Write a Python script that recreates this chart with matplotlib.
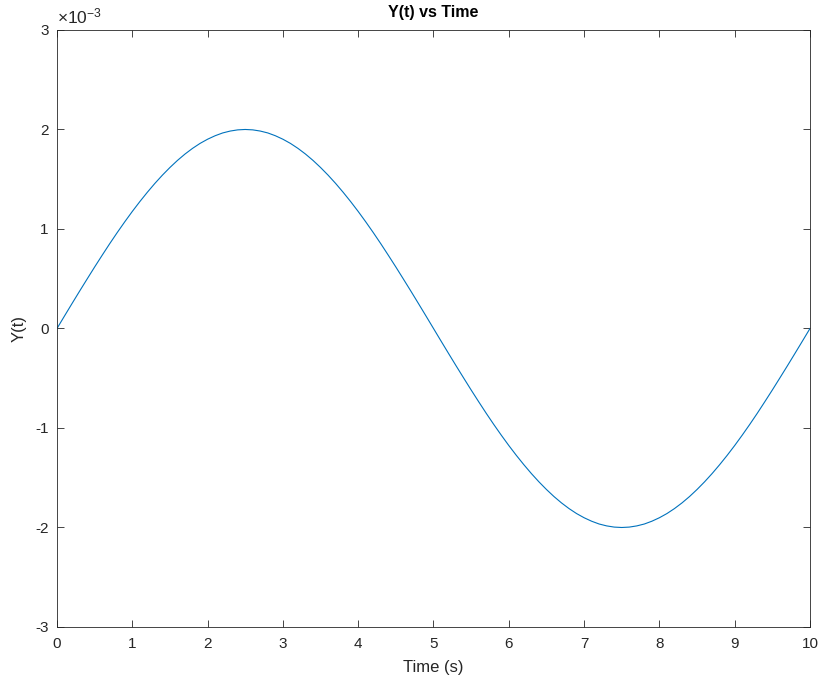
import matplotlib
matplotlib.use('Agg')
import matplotlib.pyplot as plt

plt.rcParams['font.family'] = ['Liberation Sans', 'DejaVu Sans']
plt.rcParams['axes.unicode_minus'] = False
plt.rcParams['mathtext.fontset'] = 'custom'
plt.rcParams['mathtext.rm'] = 'Liberation Sans'

# time (s)
t = [0.0, 0.1, 0.2, 0.3, 0.4, 0.5, 0.6, 0.7, 0.8, 0.9,
     1.0, 1.1, 1.2, 1.3, 1.4, 1.5, 1.6, 1.7, 1.8, 1.9,
     2.0, 2.1, 2.2, 2.3, 2.4, 2.5, 2.6, 2.7, 2.8, 2.9,
     3.0, 3.1, 3.2, 3.3, 3.4, 3.5, 3.6, 3.7, 3.8, 3.9,
     4.0, 4.1, 4.2, 4.3, 4.4, 4.5, 4.6, 4.7, 4.8, 4.9,
     5.0, 5.1, 5.2, 5.3, 5.4, 5.5, 5.6, 5.7, 5.8, 5.9,
     6.0, 6.1, 6.2, 6.3, 6.4, 6.5, 6.6, 6.7, 6.8, 6.9,
     7.0, 7.1, 7.2, 7.3, 7.4, 7.5, 7.6, 7.7, 7.8, 7.9,
     8.0, 8.1, 8.2, 8.3, 8.4, 8.5, 8.6, 8.7, 8.8, 8.9,
     9.0, 9.1, 9.2, 9.3, 9.4, 9.5, 9.6, 9.7, 9.8, 9.9,
     10.0]
# Y(t) in units of 1e-3
y = [0.000, 0.126, 0.251, 0.375, 0.497, 0.618, 0.736, 0.852, 0.964, 1.072,
     1.176, 1.275, 1.369, 1.458, 1.541, 1.618, 1.689, 1.753, 1.810, 1.860,
     1.902, 1.937, 1.965, 1.984, 1.996, 2.000, 1.996, 1.984, 1.965, 1.937,
     1.902, 1.860, 1.810, 1.753, 1.689, 1.618, 1.541, 1.458, 1.369, 1.275,
     1.176, 1.072, 0.964, 0.852, 0.736, 0.618, 0.497, 0.375, 0.251, 0.126,
     0.000, -0.126, -0.251, -0.375, -0.497, -0.618, -0.736, -0.852, -0.964, -1.072,
     -1.176, -1.275, -1.369, -1.458, -1.541, -1.618, -1.689, -1.753, -1.810, -1.860,
     -1.902, -1.937, -1.965, -1.984, -1.996, -2.000, -1.996, -1.984, -1.965, -1.937,
     -1.902, -1.860, -1.810, -1.753, -1.689, -1.618, -1.541, -1.458, -1.369, -1.275,
     -1.176, -1.072, -0.964, -0.852, -0.736, -0.618, -0.497, -0.375, -0.251, -0.126,
     0.000]
xticks = [0, 1, 2, 3, 4, 5, 6, 7, 8, 9, 10]
yticks = [-3, -2, -1, 0, 1, 2, 3]

fig = plt.figure(figsize=(8.2, 6.81), dpi=100)
ax = fig.add_axes([0.0695, 0.0793, 0.9183, 0.8767])
ax.plot(t, y, color='#0072BD', linewidth=0.8)
ax.set_xlim(0, 10)
ax.set_ylim(-3, 3)
ax.set_xticks(xticks)
ax.set_yticks(yticks)
ax.tick_params(direction='in', top=True, right=True, labelsize=11,
               colors='#262626', length=5, width=0.6)
ax.tick_params(axis='x', pad=7)
ax.tick_params(axis='y', pad=6)
for s in ax.spines.values():
    s.set_linewidth(0.6)
    s.set_color('#262626')
ax.set_xlabel('Time (s)', fontsize=12, color='#262626', labelpad=7)
ax.set_ylabel('Y(t)', fontsize=12, color='#262626', labelpad=6)
ax.set_title('Y(t) vs Time', fontsize=11.5, fontweight='bold', pad=9)
ax.text(0.0, 1.006, r'$\times\mathregular{10^{-3}}$', transform=ax.transAxes,
        fontsize=12.5, color='#262626', ha='left', va='bottom')

fig.savefig('out.png', dpi=100)
